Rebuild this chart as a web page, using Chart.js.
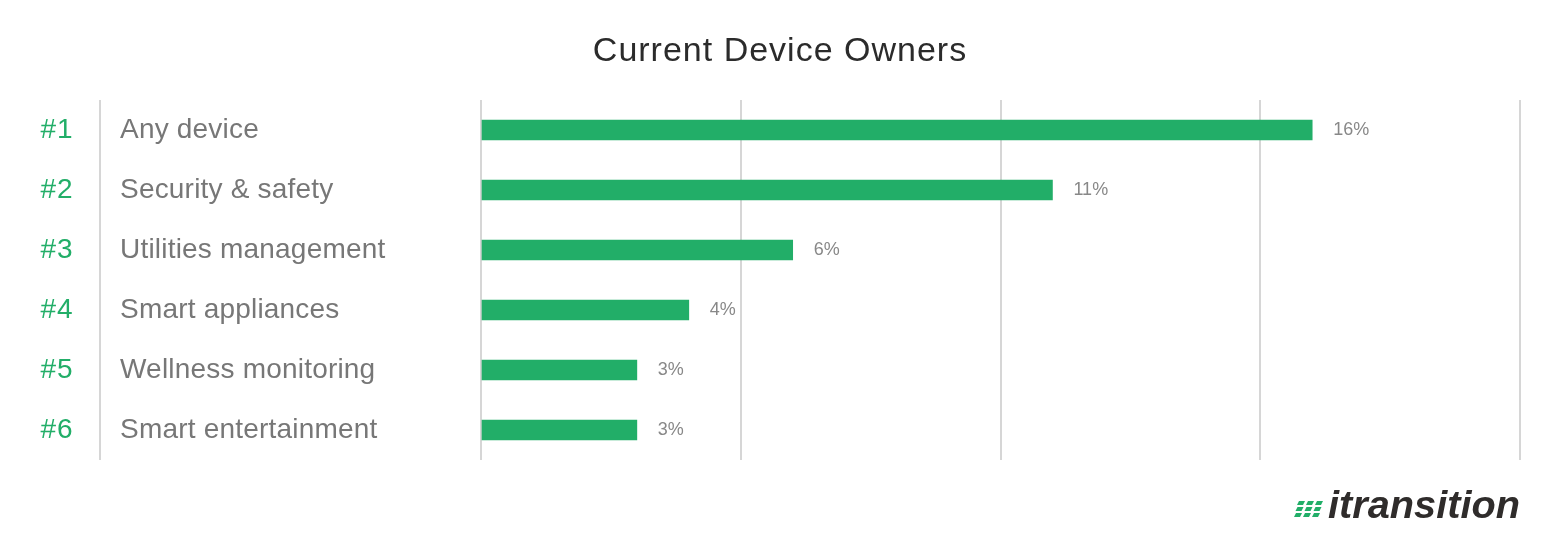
<!DOCTYPE html>
<html>
<head>
<meta charset="utf-8">
<script src="https://cdn.jsdelivr.net/npm/chart.js@4"></script>
<style>
  html, body { margin: 0; padding: 0; background: #ffffff; }
  #wrap { width: 1560px; height: 560px; position: relative; }
</style>
</head>
<body>
<div id="wrap"><canvas id="c" width="1560" height="560"></canvas></div>
<script>
const chartTitle = "Current Device Owners";
const ranks = ["#1", "#2", "#3", "#4", "#5", "#6"];
const categories = ["Any device", "Security & safety", "Utilities management", "Smart appliances", "Wellness monitoring", "Smart entertainment"];
const values = [16, 11, 6, 4, 3, 3];
const axisMax = 20;
const axisStep = 5;

const GREEN = "#22ae68";
const GRID = "#d6d6d6";
const FONT = "'Liberation Sans', Arial, sans-serif";

const textPlugin = {
  id: "textPlugin",
  afterDraw(chart) {
    const ctx = chart.ctx;
    const y = chart.scales.y;
    const area = chart.chartArea;
    ctx.save();
    // title
    ctx.fillStyle = "#2b2b2b";
    ctx.font = "34px " + FONT;
    ctx.letterSpacing = "1px";
    ctx.textAlign = "center";
    ctx.textBaseline = "alphabetic";
    ctx.fillText(chartTitle, 780, 61);
    ctx.letterSpacing = "0px";

    // left separator line
    ctx.strokeStyle = GRID;
    ctx.lineWidth = 2;
    ctx.beginPath();
    ctx.moveTo(100, area.top);
    ctx.lineTo(100, area.bottom);
    ctx.stroke();

    ctx.textBaseline = "middle";
    const meta = chart.getDatasetMeta(0);
    categories.forEach((c, i) => {
      const py = y.getPixelForValue(i);
      ctx.textAlign = "center";
      ctx.fillStyle = GREEN;
      ctx.font = "28px " + FONT;
      ctx.letterSpacing = "1px";
      ctx.fillText(ranks[i], 57, py);
      ctx.textAlign = "left";
      ctx.fillStyle = "#777777";
      ctx.font = "28px " + FONT;
      ctx.letterSpacing = "0.2px";
      ctx.fillText(c, 120, py);
      ctx.letterSpacing = "0px";
      const bar = meta.data[i];
      ctx.fillStyle = "#888888";
      ctx.font = "18px " + FONT;
      ctx.fillText(values[i] + "%", bar.x + 21, py);
    });

    // logo
    ctx.fillStyle = GREEN;
    for (let r = 0; r < 3; r++) {
      for (let col = 0; col < 3; col++) {
        const x0 = 1297 + col * 9 - r * 1.5;
        const y0 = 501 + r * 6;
        ctx.beginPath();
        ctx.moveTo(x0 + 2, y0);
        ctx.lineTo(x0 + 8, y0);
        ctx.lineTo(x0 + 6, y0 + 4);
        ctx.lineTo(x0, y0 + 4);
        ctx.closePath();
        ctx.fill();
      }
    }
    ctx.fillStyle = "#2f2c2b";
    ctx.font = "italic bold 38px " + FONT;
    ctx.textAlign = "left";
    ctx.textBaseline = "alphabetic";
    const w = ctx.measureText("itransition").width;
    ctx.save();
    ctx.translate(1328, 518);
    ctx.scale(192 / w, 1);
    ctx.fillText("itransition", 0, 0);
    ctx.restore();
    ctx.restore();
  }
};

new Chart(document.getElementById("c"), {
  type: "bar",
  data: {
    labels: categories,
    datasets: [{
      data: values,
      backgroundColor: GREEN,
      borderWidth: 0,
      barThickness: 20
    }]
  },
  options: {
    indexAxis: "y",
    responsive: false,
    animation: false,
    events: [],
    layout: { padding: { left: 481, right: 40, top: 100, bottom: 100 } },
    plugins: { legend: { display: false }, title: { display: false }, tooltip: { enabled: false } },
    scales: {
      x: {
        min: 0, max: axisMax,
        ticks: { display: false, stepSize: axisStep },
        grid: { color: GRID, lineWidth: 2, drawTicks: false },
        border: { display: false }
      },
      y: { display: false }
    }
  },
  plugins: [textPlugin]
});
</script>
</body>
</html>
